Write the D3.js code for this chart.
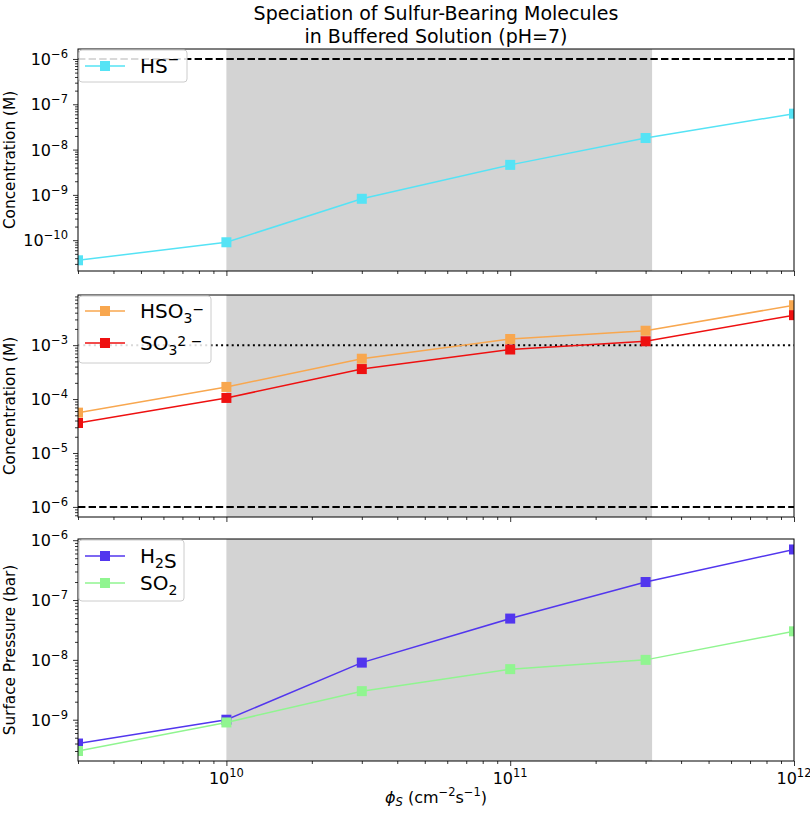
<!DOCTYPE html>
<html><head><meta charset="utf-8">
<script src="https://cdn.jsdelivr.net/npm/d3@7"></script>
<style>body{margin:0;background:#fff}svg{font-family:"DejaVu Sans",sans-serif}</style>
</head><body><svg id="c" width="810" height="815"></svg>
<script>
const fluxes = [3e9, 1e10, 3e10, 1e11, 3e11, 1e12];
const hsMinus = [3.6e-11, 9e-11, 8.2e-10, 4.6e-9, 1.8e-8, 6.2e-8];
const hso3Minus = [5.6e-5, 1.68e-4, 5.6e-4, 1.3e-3, 1.85e-3, 5.5e-3];
const so3Dash = [3.6e-5, 1.05e-4, 3.6e-4, 8.3e-4, 1.18e-3, 3.6e-3];
const h2s = [4e-10, 1e-9, 9e-9, 4.9e-8, 2e-7, 7e-7];
const so2 = [3e-10, 9e-10, 3e-9, 7e-9, 1e-8, 3e-8];
const shadeRange = [1e10, Math.pow(10, 11.5)];
const xTicks = [1e10, 1e11, 1e12];
const panelYDomains = [[Math.pow(10,-10.68), Math.pow(10,-5.78)], [Math.pow(10,-6.187), Math.pow(10,-2.07)], [Math.pow(10,-9.69), Math.pow(10,-5.98)]];
const panelYTicks = [[-10,-9,-8,-7,-6], [-6,-5,-4,-3], [-9,-8,-7,-6]];
const yLabels = ["Concentration (M)", "Concentration (M)", "Surface Pressure (bar)"];

const svg = d3.select("#c");
const L = 78, R = 794;
const tops = [49, 295, 539], H = 222;
const x = d3.scaleLog().domain([3e9, 1e12]).range([L, R]);

const panels = [
  {series:[{name:[["HS"],["−","sup"]], data:hsMinus, color:"#55e3f5"}], hlines:[{v:1e-6, dash:"7.4,3.2"}],
   legendW:108, legendH:32, rows:[16]},
  {series:[{name:[["HSO"],["3","sub"],["−","sup"]], data:hso3Minus, color:"#f8a74f"},
           {name:[["SO"],["3","sub"],["2 −","sup"]], data:so3Dash, color:"#ee1010"}],
   hlines:[{v:1e-3, dash:"2,3.3"},{v:1e-6, dash:"7.4,3.2"}], legendW:132, legendH:67, rows:[15,47]},
  {series:[{name:[["H"],["2","sub"],["S"]], data:h2s, color:"#5236ee"},
           {name:[["SO"],["2","sub"]], data:so2, color:"#90f590"}], hlines:[], legendW:105, legendH:61, rows:[16,43]}
];

panels.forEach((P, i)=>{
  const top = tops[i], bot = top + H;
  const y = d3.scaleLog().domain(panelYDomains[i]).range([bot, top]);
  const g = svg.append("g");
  const clipId = "clip"+i;
  svg.append("clipPath").attr("id", clipId).append("rect").attr("x", L).attr("y", top).attr("width", R-L).attr("height", H);
  g.append("rect").attr("x", x(shadeRange[0])).attr("y", top).attr("width", x(shadeRange[1])-x(shadeRange[0])).attr("height", H).attr("fill", "#d3d3d3");
  P.hlines.forEach(h=>{
    g.append("line").attr("x1", L).attr("x2", R).attr("y1", y(h.v)).attr("y2", y(h.v))
      .attr("stroke", "#000").attr("stroke-width", 2).attr("stroke-dasharray", h.dash);
  });
  const line = d3.line().x((d,j)=>x(fluxes[j])).y(d=>y(d));
  const dg = g.append("g").attr("clip-path", `url(#${clipId})`);
  P.series.forEach(s=>{
    dg.append("path").datum(s.data).attr("d", line).attr("fill","none").attr("stroke", s.color).attr("stroke-width", 1.5);
    dg.selectAll(null).data(s.data).enter().append("rect")
      .attr("x", (d,j)=>x(fluxes[j])-5).attr("y", d=>y(d)-5).attr("width", 10).attr("height", 10).attr("fill", s.color);
  });
  // x axis
  const xa = d3.axisBottom(x).tickValues(xTicks).tickSize(5).tickFormat("");
  const xg = g.append("g").attr("transform", `translate(0,${bot})`).call(xa);
  const xMinor = [];
  for(let e=9;e<12;e++) for(let k=2;k<10;k++){ const v=k*Math.pow(10,e); if(v>=3e9 && v<=1e12) xMinor.push(v); }
  const xm = g.append("g").attr("transform", `translate(0,${bot})`).call(d3.axisBottom(x).tickValues(xMinor).tickSize(3).tickFormat(""));
  [xg, xm].forEach(a=>{a.select(".domain").remove(); a.selectAll("line").attr("stroke","#000").attr("stroke-width",0.8);});
  if(i===2){
    xTicks.forEach(v=>{
      const t = g.append("text").attr("x", x(v)).attr("y", bot+23).attr("text-anchor","middle").attr("font-size",16).attr("fill","#000");
      t.append("tspan").text("10");
      t.append("tspan").attr("font-size",11.5).attr("dy",-7).text(Math.round(Math.log10(v)));
    });
  }
  // y axis
  const yt = panelYTicks[i].map(e=>Math.pow(10,e));
  const ya = g.append("g").attr("transform", `translate(${L},0)`).call(d3.axisLeft(y).tickValues(yt).tickSize(5).tickFormat(""));
  const yMinor = [];
  const [d0,d1] = panelYDomains[i];
  for(let e=Math.floor(Math.log10(d0)); e<=Math.ceil(Math.log10(d1)); e++) for(let k=2;k<10;k++){ const v=k*Math.pow(10,e); if(v>=d0 && v<=d1) yMinor.push(v); }
  const ym = g.append("g").attr("transform", `translate(${L},0)`).call(d3.axisLeft(y).tickValues(yMinor).tickSize(3).tickFormat(""));
  [ya, ym].forEach(a=>{a.select(".domain").remove(); a.selectAll("line").attr("stroke","#000").attr("stroke-width",0.8);});
  panelYTicks[i].forEach(e=>{
    const t = g.append("text").attr("x", L-10).attr("y", y(Math.pow(10,e))+6).attr("text-anchor","end").attr("font-size",16).attr("fill","#000");
    t.append("tspan").text("10");
    t.append("tspan").attr("font-size",11.5).attr("dy",-7).text("−"+(-e));
  });
  // frame
  g.append("rect").attr("x", L).attr("y", top).attr("width", R-L).attr("height", H).attr("fill","none").attr("stroke","#000").attr("stroke-width",1);
  // y label
  svg.append("text").attr("transform", `translate(15,${top+H/2}) rotate(-90)`).attr("text-anchor","middle").attr("font-size",15.3).attr("fill","#000").text(yLabels[i]);
  // legend
  const lg = svg.append("g").attr("transform", `translate(${L+1},${top+1})`);
  lg.append("rect").attr("width", P.legendW).attr("height", P.legendH).attr("rx", 3).attr("fill","#fff").attr("fill-opacity",0.85).attr("stroke","#ccc");
  P.series.forEach((s, k)=>{
    const cy = P.rows[k];
    lg.append("line").attr("x1", 6).attr("x2", 46).attr("y1", cy).attr("y2", cy).attr("stroke", s.color).attr("stroke-width",1.5);
    lg.append("rect").attr("x", 21).attr("y", cy-5).attr("width",10).attr("height",10).attr("fill", s.color);
    const t = lg.append("text").attr("x", 61).attr("y", cy+7).attr("font-size",20).attr("fill","#000");
    s.name.forEach(p=>{
      if(!p[1]) t.append("tspan").text(p[0]);
      else {
        const up = p[1]==="sup" ? -9 : 5;
        t.append("tspan").attr("font-size",14).attr("dy", up).text(p[0]);
        t.append("tspan").attr("dy", -up).text("");
      }
    });
  });
});

// title
svg.append("text").attr("x", 436).attr("y", 20).attr("text-anchor","middle").attr("font-size",19).attr("fill","#000").text("Speciation of Sulfur-Bearing Molecules");
svg.append("text").attr("x", 436).attr("y", 43).attr("text-anchor","middle").attr("font-size",19).attr("fill","#000").text("in Buffered Solution (pH=7)");
// x label
const xl = svg.append("text").attr("x", 436).attr("y", 803).attr("text-anchor","middle").attr("font-size",16).attr("fill","#000");
xl.append("tspan").attr("font-style","italic").text("ϕ");
xl.append("tspan").attr("font-style","italic").attr("font-size",11.5).attr("dy",3).text("S");
xl.append("tspan").attr("dy",-3).text(" (cm");
xl.append("tspan").attr("font-size",11.5).attr("dy",-7).text("−2");
xl.append("tspan").attr("dy",7).text("s");
xl.append("tspan").attr("font-size",11.5).attr("dy",-7).text("−1");
xl.append("tspan").attr("dy",7).text(")");
</script></body></html>
